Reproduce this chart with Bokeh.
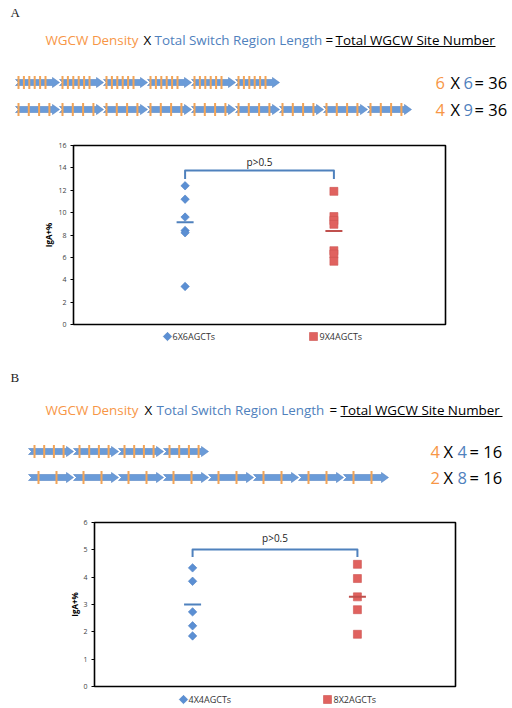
import math
from bokeh.plotting import figure
from bokeh.models import Range1d, FixedTicker
from bokeh.core.properties import value
from bokeh.embed import file_html
from bokeh.resources import INLINE

# ---------------- data ----------------
header_parts = ["WGCW Density", "X", "Total Switch Region Length", "=", "Total WGCW Site Number"]
panel_names = ["A", "B"]

# Panel A schematic: WGCW density (ticks per unit) x switch region length (units) = total sites
density_a = [6, 4]
length_a = [6, 9]
total_a = [36, 36]
# Panel B schematic
density_b = [4, 2]
length_b = [4, 8]
total_b = [16, 16]

# Panel A dot plot (IgA+ %)
series_a = ["6X6AGCTs", "9X4AGCTs"]
iga_a_1 = [12.4, 11.2, 9.6, 8.4, 8.2, 3.4]
iga_a_2 = [11.9, 9.65, 9.3, 8.95, 6.6, 6.3, 5.65]
mean_a = [9.15, 8.35]
ticks_a = [0, 2, 4, 6, 8, 10, 12, 14, 16]

# Panel B dot plot (IgA+ %)
series_b = ["4X4AGCTs", "8X2AGCTs"]
iga_b_1 = [4.34, 3.85, 2.73, 2.22, 1.85]
iga_b_2 = [4.47, 3.95, 3.28, 2.81, 1.91]
mean_b = [3.0, 3.28]
ticks_b = [0, 1, 2, 3, 4, 5, 6]

p_text = "p>0.5"
y_label = "IgA+%"

# ---------------- style ----------------
W = 512
ORANGE = "#F79646"
BLUE_T = "#4F81BD"
ARROW = "#6A9BD8"
ARROW_EDGE = "#5585C4"
TICK = "#F2A457"
MARK1 = "#5B8FD3"
MARK1_EDGE = "#4A7EC2"
MARK2 = "#E0625F"
MARK2_EDGE = "#CC5451"
MEAN1 = "#4F81BD"
MEAN2 = "#C0504D"
FONT = "Open Sans"


def blank(h, y0):
    p = figure(width=W, height=h, x_range=Range1d(0, W), y_range=Range1d(y0 + h, y0),
               output_backend="svg", toolbar_location=None, min_border=0,
               x_axis_location=None, y_axis_location=None)
    p.outline_line_color = None
    p.xgrid.visible = False
    p.ygrid.visible = False
    p.background_fill_color = "white"
    p.border_fill_color = "white"
    return p


def diagram(y0, h, label, label_y, head_y, head_x, ul_x1, rows, eq_x, dens, lens, tots):
    p = blank(h, y0)
    p.text(x=[10], y=[label_y], text=[label], text_font=value("Liberation Serif"),
           text_font_size="13px", text_baseline="middle", text_color="#222222")
    colors = [ORANGE, "#000000", BLUE_T, "#000000", "#000000"]
    p.text(x=head_x, y=[head_y] * len(header_parts), text=header_parts, text_color=colors,
           text_font=value(FONT), text_font_size="13.4px", text_baseline="middle")
    p.segment(x0=[head_x[4]], y0=[head_y + 7], x1=[ul_x1], y1=[head_y + 7],
              line_color="#000000", line_width=1)
    for i, r in enumerate(rows):
        xs, ys, tx = [], [], []
        yc = r["y"]
        for s in range(lens[i]):
            a = r["x"] + s * r["seg"]
            b = a + r["seg"]
            xs.append([a, b - 7, b - 7, b, b - 7, b - 7, a, a + 3])
            ys.append([yc - 3, yc - 3, yc - 5, yc, yc + 5, yc + 3, yc + 3, yc])
            for k in range(dens[i]):
                tx.append(a + r["first"] + k * r["step"])
        p.patches(xs, ys, fill_color=ARROW, line_color=ARROW_EDGE, line_width=0.6)
        p.segment(x0=tx, y0=[yc - 6.5] * len(tx), x1=tx, y1=[yc + 6.5] * len(tx),
                  line_color=TICK, line_width=2)
        p.text(x=eq_x, y=[yc] * 4,
               text=[str(dens[i]), "X", str(lens[i]), "= " + str(tots[i])],
               text_color=[ORANGE, "#000000", BLUE_T, "#000000"],
               text_font=value(FONT), text_font_size="16.5px", text_baseline="middle")
    return p


def chart(h, bt, bb, bl, br, xr, ymax, ticks, g1, g2, means, br_lo, br_hi, p_y, label_standoff):
    p = figure(width=W, height=h, x_range=Range1d(*xr), y_range=Range1d(0, ymax),
               output_backend="svg", toolbar_location=None, x_axis_location=None,
               min_border_top=bt, min_border_bottom=bb, min_border_left=bl, min_border_right=br)
    p.outline_line_color = "#000000"
    p.outline_line_width = 1.6
    p.xgrid.visible = False
    p.ygrid.visible = False
    ax = p.yaxis[0]
    ax.ticker = FixedTicker(ticks=ticks)
    ax.minor_tick_line_color = None
    ax.major_tick_in = 0
    ax.major_tick_out = 3
    ax.major_tick_line_color = "#000000"
    ax.axis_line_color = "#000000"
    ax.major_label_text_font = FONT
    ax.major_label_text_font_size = "7px"
    ax.major_label_text_color = "#404040"
    ax.major_label_standoff = 4
    ax.axis_label = y_label
    ax.axis_label_text_font = FONT
    ax.axis_label_text_font_style = "bold"
    ax.axis_label_text_font_size = "8px"
    ax.axis_label_text_color = "#000000"
    ax.axis_label_standoff = label_standoff

    p.scatter(x=[1] * len(g1), y=g1, marker="square", angle=math.pi / 4, size=6,
              fill_color=MARK1, line_color=MARK1_EDGE, line_width=0.6)
    p.scatter(x=[2] * len(g2), y=g2, marker="square", size=8,
              fill_color=MARK2, line_color=MARK2_EDGE, line_width=0.6)
    p.scatter(x=[1, 2], y=means, marker="dash", size=17, line_color=[MEAN1, MEAN2], line_width=2)
    p.line(x=[1, 1, 2, 2], y=[br_lo, br_hi, br_hi, br_lo], line_color="#4F81BD",
           line_width=2, line_join="round")
    p.text(x=[1.5], y=[p_y], text=[p_text], text_font=value(FONT), text_font_size="10px",
           text_align="center", text_baseline="middle", text_color="#222222")
    return p


def legend_strip(y0, h, yc, mx, tx, names):
    p = blank(h, y0)
    p.scatter(x=[mx[0]], y=[yc], marker="square", angle=math.pi / 4, size=6,
              fill_color=MARK1, line_color=MARK1_EDGE, line_width=0.6)
    p.scatter(x=[mx[1]], y=[yc], marker="square", size=8,
              fill_color=MARK2, line_color=MARK2_EDGE, line_width=0.6)
    p.text(x=tx, y=[yc, yc], text=names, text_font=value(FONT), text_font_size="9px",
           text_baseline="middle", text_color="#333333")
    return p


rows_a = [dict(y=82, x=15, seg=44, first=3, step=5.4),
          dict(y=109, x=15, seg=44, first=3, step=10.3)]
rows_b = [dict(y=451, x=28, seg=45, first=6, step=9.7),
          dict(y=477, x=28, seg=45, first=10, step=18)]

f1 = diagram(0, 138, panel_names[0], 12, 39, [45, 143, 154, 325, 335], 495, rows_a,
             [435, 450, 463, 474], density_a, length_a, total_a)
f2 = chart(191, 7, 5, 73, 67, (0.25, 2.75), 16, ticks_a, iga_a_1, iga_a_2, mean_a,
           13.0, 13.77, 14.5, 1)
l2 = legend_strip(329, 19, 336, [167, 313], [172, 319], series_a)
f3 = diagram(348, 150, panel_names[1], 377, 409, [45, 144, 156, 329, 340], 502, rows_b,
             [430, 443, 457, 469], density_b, length_b, total_b)
f4 = chart(193, 24, 5, 94, 57, (0.405, 2.595), 6, ticks_b, iga_b_1, iga_b_2, mean_b,
           4.74, 5.01, 5.43, 0)
l4 = legend_strip(691, 17, 699, [183, 327], [188, 333], series_b)

open("out.html", "w").write(file_html([f1, f2, l2, f3, f4, l4], INLINE))
